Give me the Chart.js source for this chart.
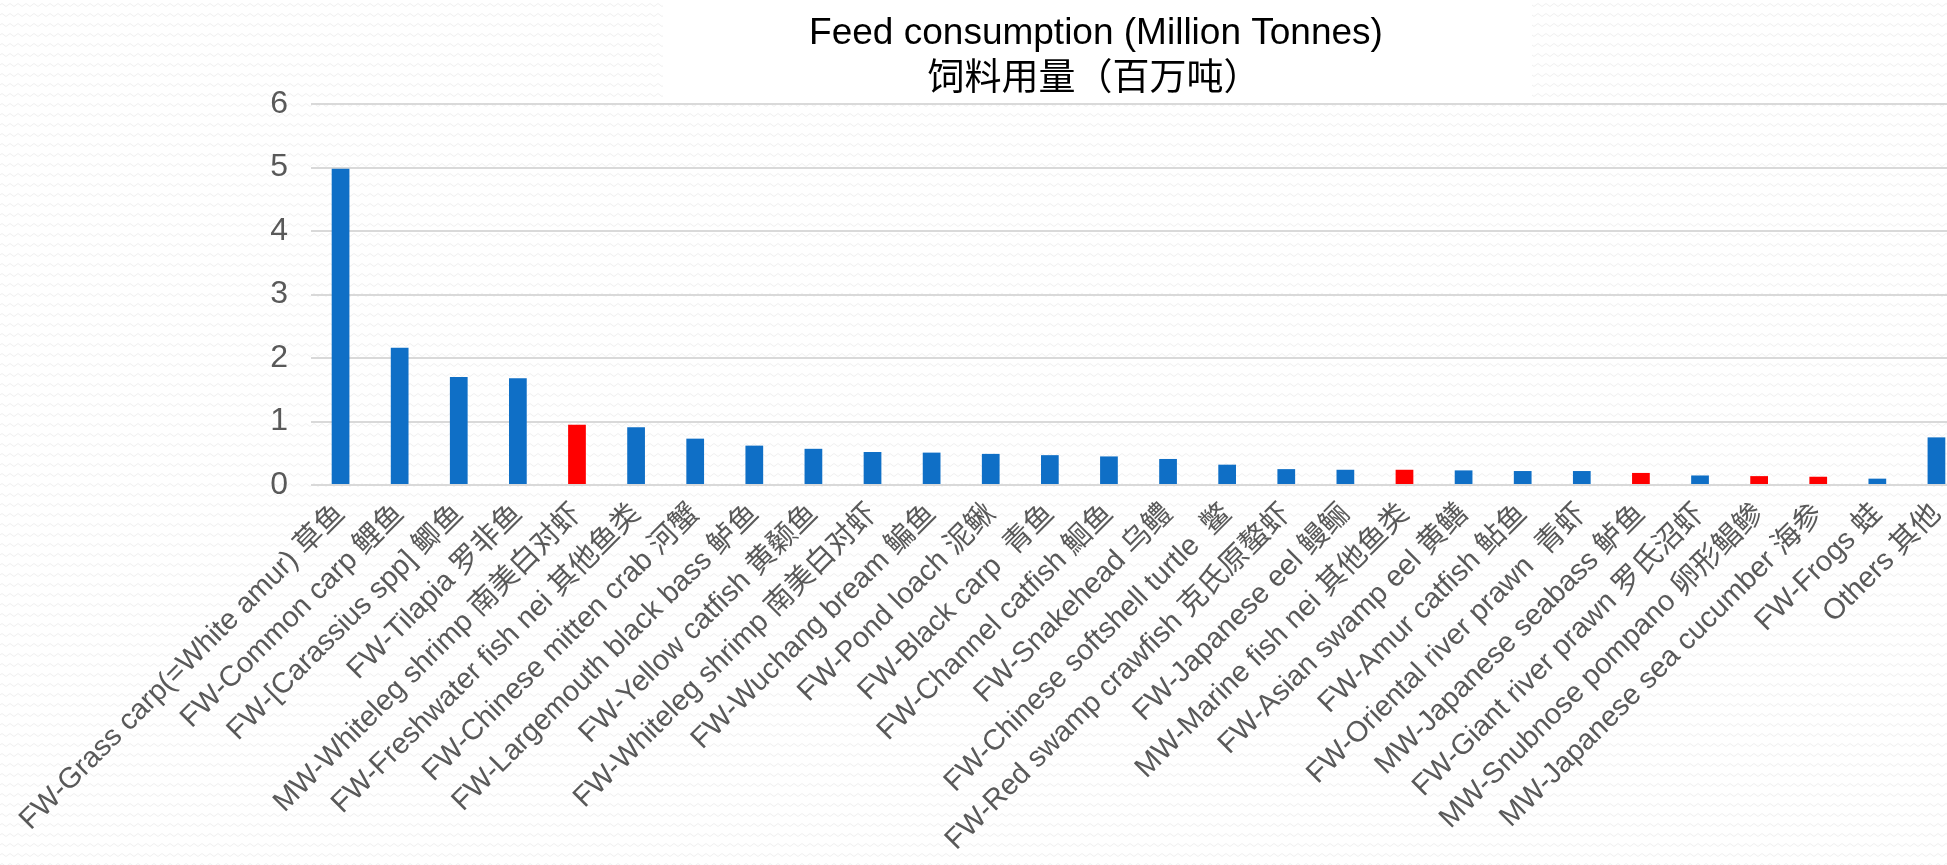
<!DOCTYPE html>
<html>
<head>
<meta charset="utf-8">
<title>Feed consumption</title>
<script src="https://cdn.jsdelivr.net/npm/chart.js@4.4.1/dist/chart.umd.min.js"></script>
<style>
    body {
        margin: 0;
        overflow: hidden;
        background: #ffffff url("data:image/svg+xml,%3Csvg xmlns='http://www.w3.org/2000/svg' width='8' height='10'%3E%3Cpath d='M0 5 Q2 2 4 5 T8 5' fill='none' stroke='%23efefef' stroke-width='1'/%3E%3C/svg%3E") repeat;
    }
    #chart-container {
        position: relative;
        width: 1966px;
        height: 865px;
    }
</style>
</head>
<body>
<div id="chart-container"><canvas id="feed-chart"></canvas></div>
<script>
// Species (FW = freshwater, MW = marine)
var speciesLabels = [
    'FW-Grass carp(=White amur) 草鱼',
    'FW-Common carp 鲤鱼',
    'FW-[Carassius spp] 鲫鱼',
    'FW-Tilapia 罗非鱼',
    'MW-Whiteleg shrimp 南美白对虾',
    'FW-Freshwater fish nei 其他鱼类',
    'FW-Chinese mitten crab 河蟹',
    'FW-Largemouth black bass 鲈鱼',
    'FW-Yellow catfish 黄颡鱼',
    'FW-Whiteleg shrimp 南美白对虾',
    'FW-Wuchang bream 鳊鱼',
    'FW-Pond loach 泥鳅',
    'FW-Black carp  青鱼',
    'FW-Channel catfish 鮰鱼',
    'FW-Snakehead 乌鳢',
    'FW-Chinese softshell turtle  鳖',
    'FW-Red swamp crawfish 克氏原螯虾',
    'FW-Japanese eel 鳗鲡',
    'MW-Marine fish nei 其他鱼类',
    'FW-Asian swamp eel 黄鳝',
    'FW-Amur catfish 鲇鱼',
    'FW-Oriental river prawn  青虾',
    'MW-Japanese seabass 鲈鱼',
    'FW-Giant river prawn 罗氏沼虾',
    'MW-Snubnose pompano 卵形鲳鲹',
    'MW-Japanese sea cucumber 海参',
    'FW-Frogs 蛙',
    'Others 其他'
];

// Feed consumption, million tonnes
var feedValues = [
    4.98, 2.16, 1.70, 1.68, 0.95, 0.91, 0.73, 0.62, 0.57, 0.52,
    0.51, 0.49, 0.47, 0.45, 0.41, 0.32, 0.25, 0.24, 0.24, 0.23,
    0.22, 0.22, 0.19, 0.15, 0.14, 0.13, 0.10, 0.75
];

var yTicks = [0, 1, 2, 3, 4, 5, 6];

var titleLines = ['Feed consumption (Million Tonnes)', '饲料用量（百万吨）'];

var BLUE = '#0f6fc6';
var RED = '#ff0000';
var FONT = '"Liberation Sans", Arial, "Noto Sans CJK SC", sans-serif';

// marine species are shown in red
var barColors = speciesLabels.map(function (name) {
    return name.indexOf('MW-') === 0 ? RED : BLUE;
});

// white title panel + two-line title
var titlePanel = {
    id: 'titlePanel',
    beforeDraw: function (chart) {
        var ctx = chart.ctx;
        ctx.save();
        ctx.fillStyle = '#ffffff';
        ctx.fillRect(663, 0, 869, 97);
        ctx.restore();
    },
    afterDraw: function (chart) {
        var ctx = chart.ctx;
        ctx.save();
        ctx.fillStyle = '#000000';
        ctx.textAlign = 'center';
        ctx.textBaseline = 'middle';
        ctx.font = '37px ' + FONT;
        ctx.fillText(titleLines[0], 1096, 34);
        ctx.font = '37px "Noto Sans CJK SC", ' + FONT;
        ctx.fillText(titleLines[1], 1094, 76);
        ctx.restore();
    }
};

var ctx = document.getElementById('feed-chart').getContext('2d');
var chart = new Chart(ctx, {
    type: 'bar',
    data: {
        labels: speciesLabels,
        datasets: [{
            label: titleLines[0],
            data: feedValues,
            backgroundColor: barColors,
            borderWidth: 0,
            categoryPercentage: 1,
            barPercentage: 0.3
        }]
    },
    options: {
        responsive: true,
        maintainAspectRatio: false,
        animation: false,
        layout: {
            padding: {top: 104, left: 0, right: 0, bottom: 0}
        },
        plugins: {
            legend: {display: false},
            title: {display: false},
            tooltip: {enabled: false}
        },
        scales: {
            x: {
                grid: {display: false},
                border: {display: false},
                ticks: {
                    autoSkip: false,
                    minRotation: 45,
                    maxRotation: 45,
                    padding: 4,
                    color: '#595959',
                    font: {family: FONT, size: 29}
                },
                afterFit: function (scale) {
                    scale.height = 380;
                    scale.paddingLeft = 0;
                    scale.paddingRight = 0;
                }
            },
            y: {
                min: 0,
                max: 6,
                afterBuildTicks: function (scale) {
                    scale.ticks = yTicks.map(function (v) { return {value: v}; });
                },
                grid: {
                    color: '#d9d9d9',
                    lineWidth: 2,
                    drawTicks: false
                },
                border: {display: false},
                ticks: {
                    padding: 23,
                    color: '#595959',
                    font: {family: FONT, size: 32}
                },
                afterFit: function (scale) {
                    scale.width = 311;
                }
            }
        }
    },
    plugins: [titlePanel]
});
</script>
</body>
</html>
